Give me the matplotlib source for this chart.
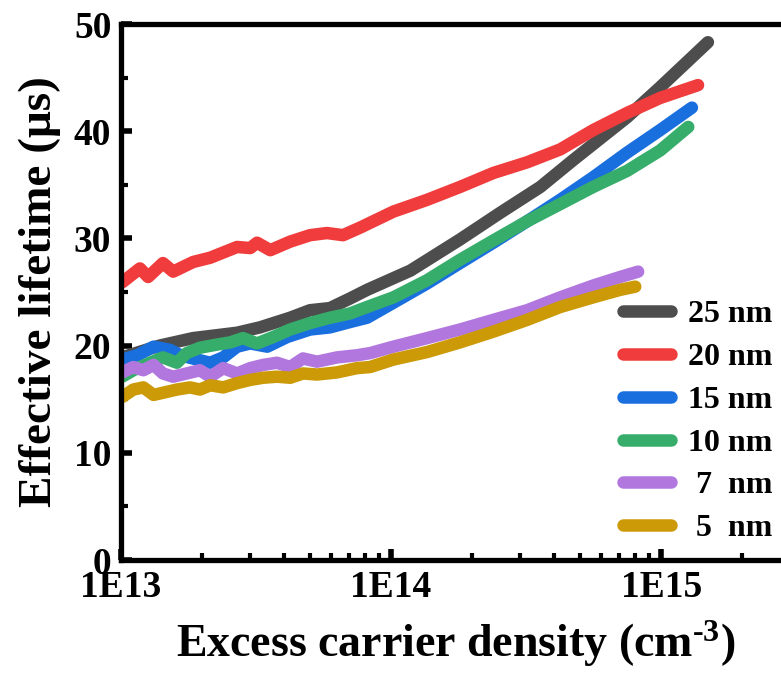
import matplotlib
matplotlib.use('Agg')
import matplotlib.pyplot as plt
from matplotlib.ticker import LogLocator, MultipleLocator, FuncFormatter, NullFormatter
import numpy as np

plt.rcParams['font.family'] = ['Liberation Serif', 'DejaVu Serif']
plt.rcParams['font.weight'] = 'bold'
plt.rcParams['mathtext.fontset'] = 'custom'
plt.rcParams['mathtext.rm'] = 'Liberation Serif:bold'
plt.rcParams['mathtext.bf'] = 'Liberation Serif:bold'
plt.rcParams['mathtext.default'] = 'rm'

# carrier density (cm^-3) and lifetime (us)
x_25 = [1.01e13, 1.39e13, 1.85e13, 2.69e13, 3.27e13, 4.23e13, 5.01e13, 5.94e13,
        7.05e13, 8.15e13, 1.18e14, 1.80e14, 2.54e14, 3.57e14, 4.72e14, 7.48e14,
        9.91e14, 1.49e15]
y_25 = [18.9, 20.0, 20.7, 21.2, 21.7, 22.6, 23.3, 23.5,
        24.4, 25.2, 27.0, 29.9, 32.4, 34.8, 37.3, 41.3,
        44.1, 48.3]

x_20 = [1.01e13, 1.175e13, 1.26e13, 1.43e13, 1.56e13, 1.85e13, 2.14e13, 2.69e13,
        3.01e13, 3.19e13, 3.57e13, 4.23e13, 5.01e13, 5.79e13, 6.64e13, 7.67e13,
        1.02e14, 1.36e14, 1.80e14, 2.39e14, 3.19e14, 4.23e14, 5.60e14, 7.48e14,
        9.91e14, 1.37e15]
y_20 = [25.9, 27.2, 26.4, 27.7, 26.9, 27.8, 28.2, 29.2,
        29.1, 29.6, 28.9, 29.7, 30.3, 30.5, 30.3, 31.0,
        32.5, 33.6, 34.8, 36.1, 37.1, 38.3, 40.1, 41.7,
        43.1, 44.3]

x_15 = [1.01e13, 1.15e13, 1.32e13, 1.52e13, 1.66e13, 1.91e13, 2.14e13, 2.39e13,
        2.69e13, 3.01e13, 3.48e13, 4.12e13, 5.01e13, 5.94e13, 7.05e13, 8.15e13,
        1.02e14, 1.36e14, 1.80e14, 2.39e14, 3.19e14, 4.23e14, 5.60e14, 7.48e14,
        9.91e14, 1.30e15]
y_15 = [18.7, 19.1, 19.9, 19.6, 19.1, 18.7, 18.4, 18.9,
        19.9, 20.2, 19.9, 20.8, 21.5, 21.7, 22.2, 22.6,
        24.0, 25.8, 27.7, 29.6, 31.6, 33.6, 35.7, 38.0,
        40.1, 42.2]

x_10 = [1.01e13, 1.11e13, 1.28e13, 1.43e13, 1.61e13, 1.75e13, 1.96e13, 2.27e13,
        2.54e13, 2.83e13, 3.19e13, 3.66e13, 4.23e13, 5.01e13, 5.94e13, 7.05e13,
        8.15e13, 1.02e14, 1.36e14, 1.80e14, 2.39e14, 3.19e14, 4.23e14, 5.60e14,
        7.48e14, 9.91e14, 1.26e15]
y_10 = [17.1, 17.7, 18.4, 18.9, 18.4, 19.3, 19.8, 20.1,
        20.3, 20.7, 20.2, 20.8, 21.5, 22.1, 22.6, 23.0,
        23.6, 24.5, 26.1, 28.0, 29.8, 31.6, 33.2, 34.8,
        36.3, 38.2, 40.4]

x_7 = [1.01e13, 1.11e13, 1.21e13, 1.32e13, 1.43e13, 1.56e13, 1.75e13, 1.96e13,
       2.14e13, 2.39e13, 2.69e13, 3.01e13, 3.36e13, 3.78e13, 4.23e13, 4.72e13,
       5.32e13, 6.31e13, 7.48e13, 8.36e13, 1.02e14, 1.36e14, 1.80e14, 2.39e14,
       3.19e14, 4.23e14, 5.60e14, 7.05e14, 8.22e14]
y_7 = [17.5, 18.0, 17.7, 18.2, 17.4, 17.1, 17.4, 17.7,
       17.1, 17.9, 17.4, 17.9, 18.2, 18.4, 18.0, 18.8,
       18.5, 18.9, 19.1, 19.3, 19.9, 20.7, 21.5, 22.4,
       23.3, 24.5, 25.6, 26.4, 26.9]

x_5 = [1.01e13, 1.11e13, 1.21e13, 1.32e13, 1.43e13, 1.61e13, 1.80e13, 1.96e13,
       2.14e13, 2.39e13, 2.69e13, 3.01e13, 3.36e13, 3.78e13, 4.23e13, 4.72e13,
       5.32e13, 6.31e13, 7.48e13, 8.36e13, 1.02e14, 1.36e14, 1.80e14, 2.39e14,
       3.19e14, 4.23e14, 5.60e14, 7.05e14, 8.02e14]
y_5 = [15.2, 15.9, 16.1, 15.4, 15.6, 15.9, 16.1, 15.9,
       16.3, 16.1, 16.5, 16.8, 17.0, 17.1, 17.0, 17.4,
       17.3, 17.5, 17.9, 18.0, 18.7, 19.4, 20.3, 21.3,
       22.4, 23.6, 24.5, 25.2, 25.5]

labels = ['25 nm', '20 nm', '15 nm', '10 nm', ' 7  nm', ' 5  nm']
colors = ['#4d4d4d', '#f03c3c', '#1a6fdf', '#37ad6b', '#b177de', '#cc9a06']
series = [(x_25, y_25), (x_20, y_20), (x_15, y_15),
          (x_10, y_10), (x_7, y_7), (x_5, y_5)]

fig = plt.figure(figsize=(7.81, 6.77), dpi=100)
ax = fig.add_axes([121 / 781, 117 / 677, 669 / 781, 536 / 677])

for (xs, ys), c, lab in zip(series, colors, labels):
    ax.plot(xs, ys, color=c, lw=9, label=lab,
            solid_capstyle='round', solid_joinstyle='round')

ax.set_xscale('log')
ax.set_xlim(1e13, 3e15)
ax.set_ylim(0, 50)

ax.xaxis.set_major_locator(LogLocator(base=10, numticks=10))
ax.xaxis.set_minor_locator(LogLocator(base=10, subs=np.arange(2, 10), numticks=20))
ax.xaxis.set_major_formatter(FuncFormatter(lambda v, p: '1E%d' % round(np.log10(v))))
ax.xaxis.set_minor_formatter(NullFormatter())
ax.yaxis.set_major_locator(MultipleLocator(10))
ax.yaxis.set_minor_locator(MultipleLocator(5))

ax.tick_params(which='major', direction='in', length=8, width=4, labelsize=27, pad=7)
ax.tick_params(which='minor', direction='in', length=5, width=3)
ax.tick_params(top=False, right=False, which='both')
for s in ax.spines.values():
    s.set_linewidth(3.8)

ax.set_xlabel('Excess carrier density (cm$^{\\text{-}3}$)', fontsize=33,
              fontweight='bold', labelpad=10)
ax.set_ylabel('Effective lifetime (\u03bcs)', fontsize=34, fontweight='bold', labelpad=9)

ax.legend(loc='upper left', bbox_to_anchor=(623 / 781, 1 - 300 / 677),
          bbox_transform=fig.transFigure, frameon=False, fontsize=23,
          handlelength=1.5, handletextpad=0.55, labelspacing=0.42,
          borderpad=0, borderaxespad=0)

fig.savefig('out.png', dpi=100)
